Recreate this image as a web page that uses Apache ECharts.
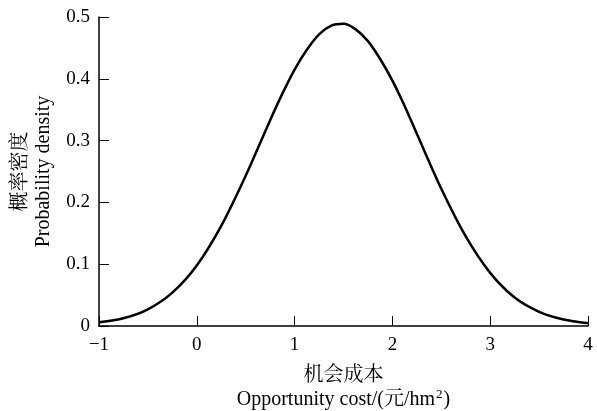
<!DOCTYPE html>
<html>
<head>
<meta charset="utf-8">
<script src="https://cdn.jsdelivr.net/npm/echarts@6/dist/echarts.min.js"></script>
<style>html,body{margin:0;padding:0;background:#fff}#c{width:597px;height:411px}</style>
</head>
<body>
<div id="c"></div>
<script>
var xValues = [-1, -0.75, -0.5, -0.25, 0, 0.25, 0.5, 0.75, 0.875, 1, 1.125, 1.25, 1.375, 1.5, 1.625, 1.75, 1.875, 2, 2.125, 2.25, 2.5, 2.75, 3, 3.25, 3.5, 3.75, 4];
var densityValues = [0.006, 0.0125, 0.027, 0.054, 0.098, 0.162, 0.243, 0.333, 0.376, 0.415, 0.447, 0.472, 0.486, 0.489, 0.480, 0.461, 0.432, 0.397, 0.356, 0.311, 0.222, 0.145, 0.086, 0.046, 0.023, 0.0105, 0.0045];
var xTicks = [-1, 0, 1, 2, 3, 4];
var yTicks = [0, 0.1, 0.2, 0.3, 0.4, 0.5];
var yNameZh = '概率密度';
var yNameEn = 'Probability density';
var xNameZh = '机会成本';
var xNameEnMain = 'Opportunity cost/(元/hm';
var xNameEnSup = '2';
var xNameEnEnd = ')';

var FONT = '"Liberation Serif", "Times New Roman", "Noto Serif CJK SC", "Noto Sans CJK SC", serif';
var chart = echarts.init(document.getElementById('c'));
chart.setOption({
  animation: false,
  backgroundColor: '#fff',
  grid: { left: 99, right: 9, top: 17, bottom: 85, containLabel: false, outerBoundsMode: 'none' },
  xAxis: {
    type: 'value', min: -1, max: 4, interval: 1,
    axisLine: { show: true, onZero: false, lineStyle: { color: '#000', width: 1.5 } },
    axisTick: { show: true, inside: true, length: 10, lineStyle: { color: '#000', width: 1 } },
    axisLabel: { color: '#000', fontFamily: FONT, fontSize: 19, margin: 10,
      formatter: function (v) { return v < 0 ? '\u2212' + Math.abs(v) : String(v); } },
    splitLine: { show: false },
    name: '{t|' + xNameZh + '}\n{t|' + xNameEnMain + '}{s|' + xNameEnSup + '}{t|' + xNameEnEnd + '}',
    nameLocation: 'middle', nameGap: 38,
    nameTextStyle: {
      color: '#000', fontFamily: FONT, fontSize: 20, lineHeight: 24,
      rich: {
        t: { color: '#000', fontFamily: FONT, fontSize: 20, lineHeight: 24 },
        s: { color: '#000', fontFamily: FONT, fontSize: 13, lineHeight: 24, verticalAlign: 'top', padding: [0, 1, 0, 1] }
      }
    }
  },
  yAxis: {
    type: 'value', min: 0, max: 0.5, interval: 0.1,
    axisLine: { show: true, onZero: false, lineStyle: { color: '#000', width: 1.5 } },
    axisTick: { show: true, inside: true, length: 10, lineStyle: { color: '#000', width: 1 } },
    axisLabel: { color: '#000', fontFamily: FONT, fontSize: 19, margin: 9,
      formatter: function (v) { return String(Math.round(v * 10) / 10); } },
    splitLine: { show: false },
    name: yNameZh + '\n' + yNameEn,
    nameLocation: 'middle', nameGap: 31, nameRotate: 90,
    nameTextStyle: { color: '#000', fontFamily: FONT, fontSize: 20, lineHeight: 23 }
  },
  series: [{
    type: 'line',
    data: xValues.map(function (x, i) { return [x, densityValues[i]]; }),
    smooth: 0.3,
    showSymbol: false,
    lineStyle: { color: '#000', width: 2.5 }
  }]
});
</script>
</body>
</html>
